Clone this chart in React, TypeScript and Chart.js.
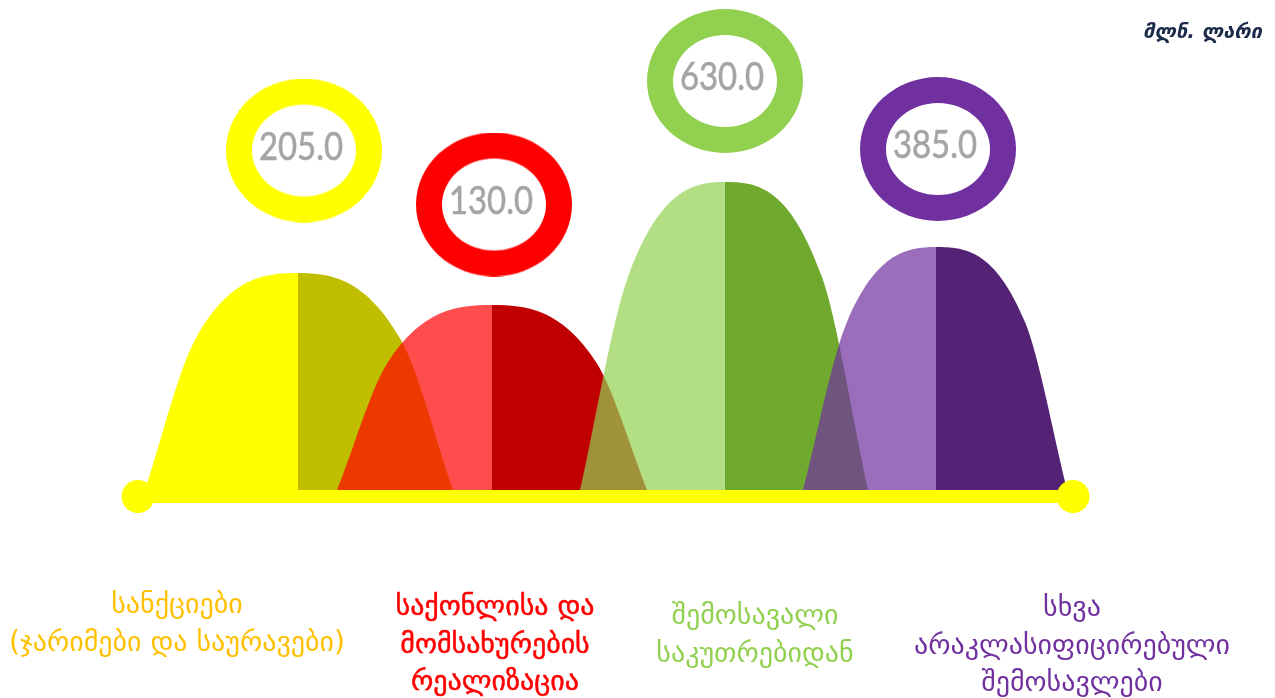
import React, { useEffect, useRef } from 'react';
import { Chart, registerables } from 'chart.js';

Chart.register(...registerables);

// ---------- DATA ----------
const categories: string[][] = [
  ['სანქციები', '(ჯარიმები და საურავები)'],
  ['საქონლისა და', 'მომსახურების', 'რეალიზაცია'],
  ['შემოსავალი', 'საკუთრებიდან'],
  ['სხვა', 'არაკლასიფიცირებული', 'შემოსავლები'],
];
const values = [205.0, 130.0, 630.0, 385.0];
const unitLabel = 'მლნ. ლარი';

// ---------- LAYOUT (decorative hump outlines) ----------
const humpLeft = [145, 337, 580, 803];
const shoulderLeft = [195, 388, 628, 847];
const humpCenters = [298, 492, 725, 936];
const shoulderRight = [401, 596, 822, 1025];
const humpRight = [453, 647, 868, 1067];
const humpHeights = [217, 185, 308, 243];
const shoulderHeights = [150, 128, 213, 168];
const ringX = [304, 494, 725, 938];
const ringY = [339.5, 285.5, 409, 341];
const labelX = [177, 495, 755, 1072];
const labelY = [613, 615, 624, 616];
const lineGap = 37.5;

// ---------- STYLES ----------
const lightColors = ['#FFFF00', 'rgba(255,0,0,0.7)', 'rgba(146,208,80,0.7)', 'rgba(112,48,160,0.7)'];
const darkColors = ['#BFBF00', '#C00000', '#6FAA2F', '#542376'];
const ringColors = ['#FFFF00', '#FF0000', '#92D050', '#7030A0'];
const labelColors = ['#FFC000', '#FF0000', '#92D050', '#7030A0'];
const labelStroke = [0, 0.5, 0, 0];

function makeRing(color: string): HTMLCanvasElement {
  const c = document.createElement('canvas');
  c.width = 156;
  c.height = 144;
  const g = c.getContext('2d')!;
  g.fillStyle = color;
  g.beginPath();
  g.ellipse(78, 72, 78, 72, 0, 0, Math.PI * 2);
  g.ellipse(78, 72, 52, 46, 0, 0, Math.PI * 2);
  g.fill('evenodd');
  return c;
}

export default function App() {
  const ref = useRef<HTMLCanvasElement>(null);

  useEffect(() => {
    if (!ref.current) return;
    const rings = ringColors.map(makeRing);

    const humpDatasets: any[] = values.map((_, i) => ({
      label: 'hump' + i,
      data: [
        { x: humpLeft[i], y: 0 },
        { x: shoulderLeft[i], y: shoulderHeights[i] },
        { x: humpCenters[i], y: humpHeights[i] },
        { x: shoulderRight[i], y: shoulderHeights[i] },
        { x: humpRight[i], y: 0 },
      ],
      cubicInterpolationMode: 'monotone',
      borderWidth: 0,
      borderColor: 'rgba(0,0,0,0)',
      pointRadius: 0,
      fill: 'origin',
      order: 10 - i,
      backgroundColor: (ctx: any) => {
        const chart = ctx.chart;
        const xs = chart.scales && chart.scales.x;
        if (!chart.chartArea || !xs) return lightColors[i];
        const x0 = xs.getPixelForValue(humpLeft[i]);
        const x1 = xs.getPixelForValue(humpRight[i]);
        const xm = xs.getPixelForValue(humpCenters[i]);
        const grad = chart.ctx.createLinearGradient(x0, 0, x1, 0);
        const p = (xm - x0) / (x1 - x0);
        grad.addColorStop(0, lightColors[i]);
        grad.addColorStop(p, lightColors[i]);
        grad.addColorStop(p, darkColors[i]);
        grad.addColorStop(1, darkColors[i]);
        return grad;
      },
    }));

    const baseline = {
      label: 'baseline',
      data: [
        { x: 138, y: -6.5 },
        { x: 1073, y: -6.5 },
      ],
      borderColor: '#FFFF00',
      borderWidth: 13,
      borderCapStyle: 'butt',
      tension: 0,
      pointRadius: 16.5,
      pointBackgroundColor: '#FFFF00',
      pointBorderWidth: 0,
      pointBorderColor: '#FFFF00',
      fill: false,
      order: 2,
    };

    const ringSet = {
      label: 'rings',
      data: values.map((v, i) => ({ x: ringX[i], y: ringY[i], v })),
      showLine: false,
      pointStyle: rings,
      pointRadius: 5,
      fill: false,
      order: 1,
    };

    const textPlugin = {
      id: 'texts',
      afterDatasetsDraw(chart: any) {
        const g = chart.ctx;
        const idx = chart.data.datasets.length - 1;
        const meta = chart.getDatasetMeta(idx);
        g.save();
        g.fillStyle = '#A5A5A5';
        g.strokeStyle = '#A5A5A5';
        g.lineWidth = 0.6;
        g.font = '38px Lato';
        g.textAlign = 'center';
        g.textBaseline = 'middle';
        meta.data.forEach((pt: any, i: number) => {
          const t = values[i].toFixed(1);
          g.fillText(t, pt.x - 3, pt.y - 3, 84);
          g.strokeText(t, pt.x - 3, pt.y - 3, 84);
        });
        // category labels
        categories.forEach((lines, i) => {
          g.fillStyle = labelColors[i];
          g.strokeStyle = labelColors[i];
          g.lineWidth = labelStroke[i];
          g.font = '28px "DejaVu Sans"';
          g.textBaseline = 'alphabetic';
          lines.forEach((ln, k) => {
            g.fillText(ln, labelX[i], labelY[i] + k * lineGap);
            if (labelStroke[i] > 0) g.strokeText(ln, labelX[i], labelY[i] + k * lineGap);
          });
        });
        // unit
        g.fillStyle = '#1C2B4A';
        g.font = 'italic bold 20px "DejaVu Sans"';
        g.textAlign = 'right';
        g.fillText(unitLabel, 1262, 38);
        g.restore();
      },
    };

    const chart = new Chart(ref.current, {
      type: 'line',
      data: { datasets: [...humpDatasets, baseline, ringSet] as any },
      options: {
        animation: false,
        responsive: false,
        devicePixelRatio: 1,
        layout: { padding: 0, autoPadding: false },
        plugins: { legend: { display: false }, tooltip: { enabled: false } },
        events: [],
        scales: {
          x: { type: 'linear', min: 0, max: 1275, display: false },
          y: { type: 'linear', min: -208, max: 490, display: false },
        },
      },
      plugins: [textPlugin],
    });
    return () => chart.destroy();
  }, []);

  return (
    <div style={{ position: 'fixed', left: 0, top: 0, width: 1275, height: 698, background: '#fff' }}>
      <canvas ref={ref} width={1275} height={698} />
    </div>
  );
}
